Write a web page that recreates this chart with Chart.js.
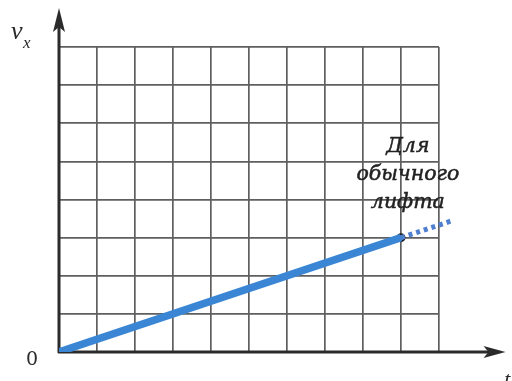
<!DOCTYPE html>
<html>
<head>
<meta charset="utf-8">
<script src="https://cdn.jsdelivr.net/npm/chart.js@4.4.1/dist/chart.umd.min.js"></script>
<style>
  html, body { margin: 0; padding: 0; background: #ffffff; }
  #wrap { width: 512px; height: 381px; }
</style>
</head>
<body>
<div id="wrap"><canvas id="c" width="512" height="381"></canvas></div>
<script>
// Data (t in grid cells, v_x in grid cells)
const tLine = [0, 9];
const vLine = [0, 3];
const tExtension = [9, 10.3];
const vExtension = [3, 3.43];
const tMarker = [9];
const vMarker = [3];
const labelLines = ['Для', 'обычного', 'лифта'];
const axisLabelY = 'v';
const axisLabelYSub = 'x';
const axisLabelX = 't';
const originLabel = '0';

const toPts = (xs, ys) => xs.map((x, i) => ({ x: x, y: ys[i] }));

const decor = {
  id: 'decor',
  beforeDatasetsDraw(chart) {
    const { ctx, scales: { x, y } } = chart;
    const ox = x.getPixelForValue(0), oy = y.getPixelForValue(0);
    const yTip = y.getPixelForValue(9.02);
    const xTip = x.getPixelForValue(11.75);
    ctx.save();
    ctx.strokeStyle = '#2b2b2b';
    ctx.fillStyle = '#2b2b2b';
    ctx.lineWidth = 3;
    ctx.beginPath();
    ctx.moveTo(ox, oy + 1); ctx.lineTo(ox, yTip + 10);
    ctx.moveTo(ox - 1, oy); ctx.lineTo(xTip - 10, oy);
    ctx.stroke();
    // arrow heads
    ctx.beginPath();
    ctx.moveTo(ox, yTip); ctx.lineTo(ox - 6, yTip + 24); ctx.lineTo(ox, yTip + 19); ctx.lineTo(ox + 6, yTip + 24); ctx.closePath();
    ctx.fill();
    ctx.beginPath();
    ctx.moveTo(xTip, oy); ctx.lineTo(xTip - 22, oy - 6); ctx.lineTo(xTip - 17, oy); ctx.lineTo(xTip - 22, oy + 6); ctx.closePath();
    ctx.fill();
    ctx.restore();
  },
  afterDraw(chart) {
    const { ctx, scales: { x, y } } = chart;
    const ox = x.getPixelForValue(0), oy = y.getPixelForValue(0);
    ctx.save();
    ctx.fillStyle = '#2a2a2a';
    // v_x
    ctx.font = 'italic 26px "Liberation Serif", serif';
    ctx.textAlign = 'left';
    ctx.textBaseline = 'alphabetic';
    ctx.fillText(axisLabelY, ox - 48, y.getPixelForValue(8.2));
    ctx.font = 'italic 17px "Liberation Serif", serif';
    ctx.fillText(axisLabelYSub, ox - 36, y.getPixelForValue(7.97));
    // 0
    ctx.font = '19px "DejaVu Serif", serif';
    ctx.textAlign = 'center';
    ctx.fillText(originLabel, ox - 27, oy + 13);
    // t
    ctx.font = 'italic 22px "Liberation Serif", serif';
    ctx.fillText(axisLabelX, x.getPixelForValue(11.8), oy + 34);
    // annotation
    ctx.font = 'italic 20.5px "DejaVu Serif", serif';
    ctx.fillStyle = '#222222';
    ctx.strokeStyle = '#222222';
    ctx.lineWidth = 0.5;
    const cx = x.getPixelForValue(9.18);
    const baseVals = [5.25, 4.52, 3.79];
    labelLines.forEach((s, i) => {
      const py = y.getPixelForValue(baseVals[i]);
      ctx.fillText(s, cx, py);
      ctx.strokeText(s, cx, py);
    });
    ctx.restore();
  }
};

new Chart(document.getElementById('c'), {
  type: 'scatter',
  data: {
    datasets: [
      {
        data: toPts(tLine, vLine),
        showLine: true,
        borderColor: '#3a86d4',
        borderWidth: 7.5,
        pointRadius: 0,
        borderCapStyle: 'butt'
      },
      {
        data: toPts(tExtension, vExtension),
        showLine: true,
        borderColor: '#4f7fd0',
        borderWidth: 5,
        borderDash: [4, 4],
        pointRadius: 0,
        clip: false
      },
      {
        data: toPts(tMarker, vMarker),
        showLine: false,
        pointRadius: 3.5,
        pointBorderWidth: 2,
        pointBorderColor: '#1e1e1e',
        pointBackgroundColor: '#5a7fa0'
      }
    ]
  },
  options: {
    responsive: false,
    animation: false,
    events: [],
    layout: { padding: { left: 59, top: 47, right: 73, bottom: 29 } },
    plugins: { legend: { display: false }, tooltip: { enabled: false } },
    scales: {
      x: {
        type: 'linear', min: 0, max: 10,
        ticks: { display: false, stepSize: 1 },
        grid: { color: '#5f5f5f', lineWidth: 1.7, drawTicks: false },
        border: { display: false }
      },
      y: {
        type: 'linear', min: 0, max: 8,
        ticks: { display: false, stepSize: 1 },
        grid: { color: '#5f5f5f', lineWidth: 1.7, drawTicks: false },
        border: { display: false }
      }
    }
  },
  plugins: [decor]
});
</script>
</body>
</html>
